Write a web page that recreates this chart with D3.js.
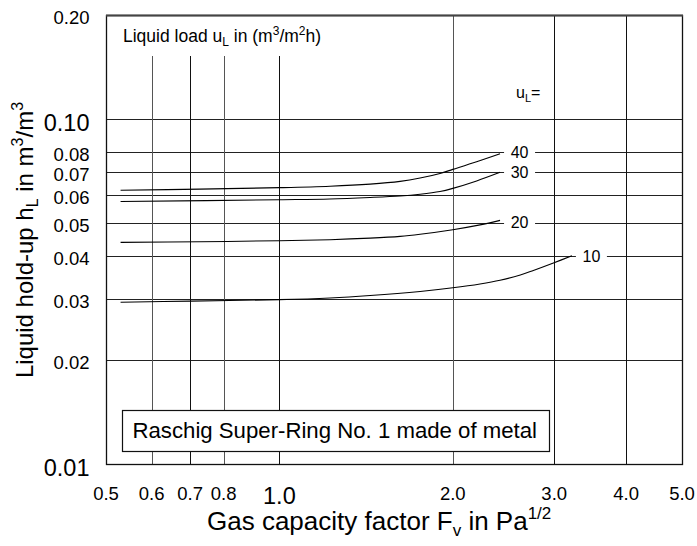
<!DOCTYPE html>
<html>
<head>
<meta charset="utf-8">
<script src="https://cdn.jsdelivr.net/npm/d3@7"></script>
<style>
  html, body { margin: 0; padding: 0; background: #fff; }
  svg { display: block; font-family: "Liberation Sans", Arial, Helvetica, sans-serif; }
</style>
</head>
<body>
<svg id="chart" width="697" height="546"></svg>
<script>
// Axis ticks
const fvTicks = [0.5, 0.6, 0.7, 0.8, 1.0, 2.0, 3.0, 4.0, 5.0];
const fvTickLabels = ["0.5", "0.6", "0.7", "0.8", "1.0", "2.0", "3.0", "4.0", "5.0"];
const fvMajor = [1.0];
const hlTicks = [0.01, 0.02, 0.03, 0.04, 0.05, 0.06, 0.07, 0.08, 0.10, 0.20];
const hlTickLabels = ["0.01", "0.02", "0.03", "0.04", "0.05", "0.06", "0.07", "0.08", "0.10", "0.20"];
const hlMajor = [0.01, 0.10];

// Vertical grid lines that stop below the top caption, and those that run full height
const fvShortGrid = [0.6, 0.7, 0.8, 1.0];
const fvFullGrid = [2.0, 3.0, 4.0];
const hlGrid = [0.02, 0.03, 0.04, 0.05, 0.06, 0.07, 0.08, 0.10];

// Liquid hold-up curves: [F_v (Pa^1/2), h_L (m3/m3)] for each liquid load u_L
const loads = [10, 20, 30, 40];
const loadLevels = [0.04, 0.05, 0.07, 0.08];
const holdup10 = [[0.53, 0.02943], [0.70, 0.02964], [1.0, 0.02994], [1.224, 0.03028], [1.437, 0.03077],
                  [1.755, 0.03162], [2.0, 0.03241], [2.23, 0.03325], [2.416, 0.03408], [2.62, 0.0353],
                  [2.76, 0.03638], [2.99, 0.03824], [3.22, 0.0401]];
const holdup20 = [[0.53, 0.04386], [0.728, 0.04406], [1.0, 0.04436], [1.224, 0.04466], [1.437, 0.04513],
                  [1.62, 0.04567], [1.755, 0.04632], [2.0, 0.04774], [2.23, 0.0493], [2.416, 0.0508]];
const holdup30 = [[0.53, 0.0576], [1.0, 0.0583], [1.224, 0.0586], [1.437, 0.0592], [1.62, 0.0598],
                  [1.755, 0.0605], [1.90, 0.0616], [2.0, 0.0629], [2.2, 0.0661], [2.416, 0.0700]];
const holdup40 = [[0.53, 0.0621], [0.728, 0.0626], [1.0, 0.0632], [1.224, 0.0638], [1.437, 0.0647],
                  [1.62, 0.0659], [1.755, 0.0674], [1.90, 0.0695], [2.0, 0.0714], [2.2, 0.0751],
                  [2.416, 0.0792]];
const holdupSeries = [holdup10, holdup20, holdup30, holdup40];

const svg = d3.select("#chart");
const plotLeft = 106, plotRight = 682, plotTop = 15, plotBottom = 464;

const x = d3.scaleLog().domain([0.5, 5.0]).range([plotLeft, plotRight]);
const y = d3.scaleLog().domain([0.01, 0.20]).range([plotBottom, plotTop]);

// Grid
const grid = svg.append("g").attr("stroke", "#222").attr("stroke-width", 1).attr("shape-rendering", "crispEdges");
grid.selectAll("line.hg").data(hlGrid).join("line")
  .attr("x1", plotLeft).attr("x2", plotRight)
  .attr("y1", d => Math.round(y(d)) + 0.5).attr("y2", d => Math.round(y(d)) + 0.5);
grid.selectAll("line.vs").data(fvShortGrid).join("line")
  .attr("x1", d => Math.round(x(d)) + 0.5).attr("x2", d => Math.round(x(d)) + 0.5)
  .attr("y1", 56).attr("y2", plotBottom)
  .attr("stroke", (d, i) => i % 2 ? "#111" : "#555");
grid.selectAll("line.vf").data(fvFullGrid).join("line")
  .attr("x1", d => Math.round(x(d)) + 0.5).attr("x2", d => Math.round(x(d)) + 0.5)
  .attr("y1", plotTop).attr("y2", plotBottom)
  .attr("stroke", (d, i) => i === 0 ? "#555" : "#111");

// Gaps in grid lines behind the curve labels
const ends = holdupSeries.map(s => s[s.length - 1]);
svg.append("g").selectAll("rect").data(ends).join("rect")
  .attr("x", d => x(d[0]) + 4)
  .attr("y", (d, i) => y(loadLevels[i]) - 6)
  .attr("width", 31).attr("height", 12)
  .attr("fill", "#fff");

// Frame
svg.append("rect")
  .attr("x", plotLeft + 0.5).attr("y", plotTop + 0.5)
  .attr("width", plotRight - plotLeft).attr("height", plotBottom - plotTop)
  .attr("fill", "none").attr("stroke", "#111").attr("stroke-width", 1.3);
svg.append("line")
  .attr("x1", plotLeft).attr("x2", plotRight + 1)
  .attr("y1", plotTop + 0.5).attr("y2", plotTop + 0.5)
  .attr("stroke", "#444").attr("stroke-width", 2);

// Curves
const line = d3.line().x(d => x(d[0])).y(d => y(d[1])).curve(d3.curveCatmullRom.alpha(0.5));
svg.append("g").selectAll("path").data(holdupSeries).join("path")
  .attr("d", line)
  .attr("fill", "none").attr("stroke", "#000").attr("stroke-width", 1.1);

// Curve labels
svg.append("g").selectAll("text").data(ends).join("text")
  .attr("x", d => x(d[0]) + 19.5)
  .attr("y", (d, i) => y(loadLevels[i]) + 5.5)
  .attr("text-anchor", "middle")
  .attr("font-size", 16)
  .text((d, i) => loads[i]);

// u_L= caption
const ul = svg.append("text").attr("x", 516).attr("y", 98).attr("font-size", 16);
ul.append("tspan").text("u");
ul.append("tspan").attr("font-size", 11).attr("dy", 4).text("L");
ul.append("tspan").attr("dy", -4).text("=");

// Top caption
const cap = svg.append("text").attr("x", 123).attr("y", 41.5).attr("font-size", 17.5);
cap.append("tspan").text("Liquid load u");
cap.append("tspan").attr("font-size", 12).attr("dy", 4).text("L");
cap.append("tspan").attr("dy", -4).text(" in (m");
cap.append("tspan").attr("font-size", 12).attr("dy", -7).text("3");
cap.append("tspan").attr("dy", 7).text("/m");
cap.append("tspan").attr("font-size", 12).attr("dy", -7).text("2");
cap.append("tspan").attr("dy", 7).text("h)");

// Packing box
svg.append("rect")
  .attr("x", 122.5).attr("y", 410.5).attr("width", 427).attr("height", 41)
  .attr("fill", "#fff").attr("stroke", "#111").attr("stroke-width", 1.2);
svg.append("text").attr("x", 132.5).attr("y", 437.5).attr("font-size", 22.2)
  .text("Raschig Super-Ring No. 1 made of metal");

// Y tick labels
svg.append("g").selectAll("text").data(hlTicks).join("text")
  .attr("x", 89.5)
  .attr("y", d => y(d) + (hlMajor.includes(d) ? 12.3 : 9))
  .attr("text-anchor", "end")
  .attr("font-size", d => hlMajor.includes(d) ? 23.5 : 18.5)
  .text((d, i) => hlTickLabels[i]);

// X tick labels
svg.append("g").selectAll("text").data(fvTicks).join("text")
  .attr("x", d => x(d))
  .attr("y", d => fvMajor.includes(d) ? 503.5 : 499.5)
  .attr("text-anchor", "middle")
  .attr("font-size", d => fvMajor.includes(d) ? 23.5 : 18.5)
  .text((d, i) => fvTickLabels[i]);

// X axis title
const xt = svg.append("text").attr("x", 207).attr("y", 530).attr("font-size", 26);
xt.append("tspan").text("Gas capacity factor F");
xt.append("tspan").attr("font-size", 17).attr("dy", 6).text("v");
xt.append("tspan").attr("dy", -6).text(" in Pa");
xt.append("tspan").attr("font-size", 17).attr("dy", -11).text("1/2");

// Y axis title
const yt = svg.append("text").attr("transform", "translate(33,240) rotate(-90)")
  .attr("text-anchor", "middle").attr("font-size", 24);
yt.append("tspan").text("Liquid hold-up h");
yt.append("tspan").attr("font-size", 16).attr("dy", 5).text("L");
yt.append("tspan").attr("dy", -5).text(" in m");
yt.append("tspan").attr("font-size", 16).attr("dy", -10).text("3");
yt.append("tspan").attr("dy", 10).text("/m");
yt.append("tspan").attr("font-size", 16).attr("dy", -10).text("3");
</script>
</body>
</html>
